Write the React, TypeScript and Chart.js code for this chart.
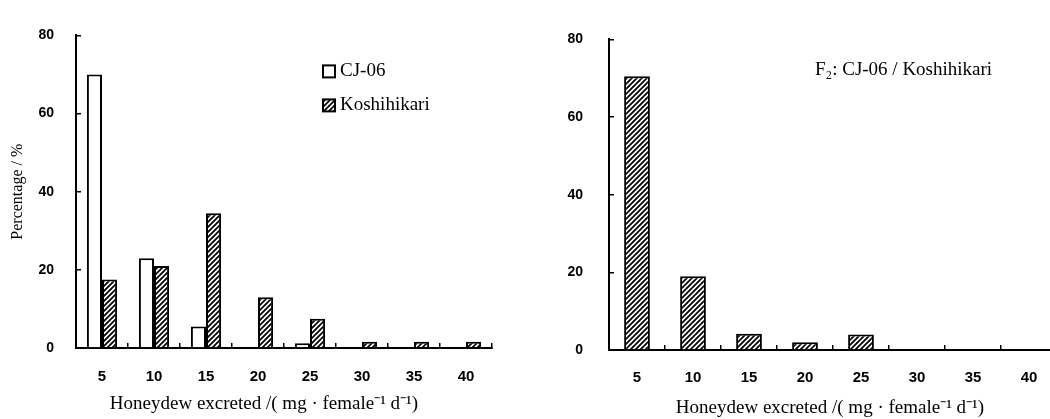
import React, { useEffect, useRef } from 'react';
import { Chart, registerables } from 'chart.js';

Chart.register(...registerables);

// ---- data ----
const categories = ['5', '10', '15', '20', '25', '30', '35', '40'];
const cj06Values = [70, 23, 5.5, 0, 1.2, 0, 0, 0];
const koshihikariValues = [17.5, 21, 34.5, 13, 7.5, 1.6, 1.6, 1.6];
const f2Values = [70.5, 19, 4.2, 2, 4, 0, 0, 0];
const seriesLabels = ['CJ-06', 'Koshihikari'];
const f2Label = 'F\u2082: CJ-06 / Koshihikari';
const xTitle = 'Honeydew excreted /( mg \u00B7 female\u207B\u00B9 d\u207B\u00B9)';
const yTitle = 'Percentage / %';
const yMin = 0;
const yMax = 80;
const yStep = 20;

const SERIF = '"Liberation Serif", "Times New Roman", serif';
const SANS = '"Liberation Sans", Arial, sans-serif';

function makeHatch(): CanvasPattern | string {
  const s = 5;
  const c = document.createElement('canvas');
  c.width = s;
  c.height = s;
  const g = c.getContext('2d');
  if (!g) return '#888';
  g.fillStyle = '#fff';
  g.fillRect(0, 0, s, s);
  g.strokeStyle = '#000';
  g.lineWidth = 1.8;
  g.beginPath();
  g.moveTo(0, s);
  g.lineTo(s, 0);
  g.moveTo(-1, 1);
  g.lineTo(1, -1);
  g.moveTo(s - 1, s + 1);
  g.lineTo(s + 1, s - 1);
  g.stroke();
  return g.createPattern(c, 'repeat') || '#888';
}

interface NoteCfg {
  titleDx: number; // x title centre, from chart area left
  titleDy: number; // x title baseline, from chart area bottom
  legend?: { dx: number; dy: number; gap: number; textDx: number };
  label?: { text: string; dx: number; dy: number };
}

function notesPlugin(cfg: NoteCfg) {
  return {
    id: 'notes',
    afterDraw(chart: any) {
      const { ctx, chartArea } = chart;
      ctx.save();
      ctx.fillStyle = '#000';
      // x-axis title
      ctx.font = '19px ' + SERIF;
      ctx.textAlign = 'center';
      ctx.textBaseline = 'alphabetic';
      ctx.fillText(xTitle, chartArea.left + cfg.titleDx, chartArea.bottom + cfg.titleDy);
      // legend
      if (cfg.legend) {
        const lg = cfg.legend;
        chart.data.datasets.forEach((ds: any, i: number) => {
          const bx = chartArea.left + lg.dx;
          const by = chartArea.top + lg.dy + i * lg.gap;
          ctx.fillStyle = ds.backgroundColor;
          ctx.fillRect(bx, by, 12, 12);
          ctx.strokeStyle = '#000';
          ctx.lineWidth = 2;
          ctx.strokeRect(bx, by, 12, 12);
          ctx.fillStyle = '#000';
          ctx.font = '19px ' + SERIF;
          ctx.textAlign = 'left';
          ctx.textBaseline = 'middle';
          ctx.fillText(ds.label, chartArea.left + lg.textDx, by + 6);
        });
      }
      if (cfg.label) {
        ctx.fillStyle = '#000';
        ctx.font = '19px ' + SERIF;
        ctx.textAlign = 'left';
        ctx.textBaseline = 'alphabetic';
        ctx.fillText(cfg.label.text, chartArea.left + cfg.label.dx, chartArea.top + cfg.label.dy);
      }
      ctx.restore();
    },
  };
}

interface OptCfg {
  yWidth: number;
  xHeight: number;
  yPad: number;
  xPad: number;
  padding: { left: number; right: number; top: number; bottom: number };
  showYTitle: boolean;
}

function makeOptions(o: OptCfg): any {
  return {
    responsive: false,
    animation: false,
    layout: { padding: o.padding },
    plugins: {
      legend: { display: false },
      tooltip: { enabled: false },
      title: { display: false },
    },
    scales: {
      x: {
        type: 'category',
        offset: true,
        border: { display: true, color: '#000', width: 2 },
        grid: {
          display: true,
          offset: true,
          drawOnChartArea: false,
          drawTicks: true,
          tickLength: -5,
          color: '#000',
          lineWidth: 1.5,
        },
        ticks: {
          color: '#000',
          font: { family: SANS, size: 15, weight: 'bold' },
          padding: o.xPad,
          maxRotation: 0,
          autoSkip: false,
        },
        afterFit: (s: any) => {
          s.height = o.xHeight;
        },
      },
      y: {
        min: yMin,
        max: yMax,
        border: { display: true, color: '#000', width: 2 },
        grid: {
          display: true,
          drawOnChartArea: false,
          drawTicks: true,
          tickLength: -5,
          color: '#000',
          lineWidth: 1.5,
        },
        ticks: {
          stepSize: yStep,
          color: '#000',
          font: { family: SANS, size: 14, weight: 'bold' },
          padding: o.yPad,
        },
        title: {
          display: o.showYTitle,
          text: yTitle,
          color: '#000',
          font: { family: SERIF, size: 16, weight: 'normal' },
          padding: { top: 8, bottom: 0 },
        },
        afterFit: (s: any) => {
          s.width = o.yWidth;
        },
      },
    },
  };
}

function LeftChart() {
  const ref = useRef<HTMLCanvasElement | null>(null);
  useEffect(() => {
    if (!ref.current) return;
    const hatch = makeHatch();
    const chart = new Chart(ref.current, {
      type: 'bar',
      data: {
        labels: categories,
        datasets: [
          {
            label: seriesLabels[0],
            data: cj06Values,
            backgroundColor: '#fff',
            borderColor: '#000',
            borderWidth: 2,
            borderSkipped: 'start',
            barPercentage: 1,
            categoryPercentage: 0.58,
          },
          {
            label: seriesLabels[1],
            data: koshihikariValues,
            backgroundColor: hatch as any,
            borderColor: '#000',
            borderWidth: 2,
            borderSkipped: 'start',
            barPercentage: 1,
            categoryPercentage: 0.58,
          },
        ],
      },
      options: makeOptions({
        yWidth: 76,
        xHeight: 71,
        yPad: 27,
        xPad: 25,
        padding: { left: 0, right: 33, top: 24, bottom: 0 },
        showYTitle: true,
      }),
      plugins: [
        notesPlugin({
          titleDx: 188,
          titleDy: 61,
          legend: { dx: 247, dy: 30, gap: 34, textDx: 264 },
        }) as any,
      ],
    });
    return () => chart.destroy();
  }, []);
  return <canvas ref={ref} width={525} height={419} />;
}

function RightChart() {
  const ref = useRef<HTMLCanvasElement | null>(null);
  useEffect(() => {
    if (!ref.current) return;
    const hatch = makeHatch();
    const chart = new Chart(ref.current, {
      type: 'bar',
      data: {
        labels: categories,
        datasets: [
          {
            label: f2Label,
            data: f2Values,
            backgroundColor: hatch as any,
            borderColor: '#000',
            borderWidth: 2,
            borderSkipped: 'start',
            barPercentage: 0.46,
            categoryPercentage: 1,
          },
        ],
      },
      options: makeOptions({
        yWidth: 84,
        xHeight: 69,
        yPad: 31,
        xPad: 24,
        padding: { left: 0, right: 8, top: 33, bottom: 0 },
        showYTitle: false,
      }),
      plugins: [
        notesPlugin({
          titleDx: 221,
          titleDy: 63,
          label: { text: f2Label, dx: 206, dy: 36 },
        }) as any,
      ],
    });
    return () => chart.destroy();
  }, []);
  return <canvas ref={ref} width={540} height={419} />;
}

export default function App() {
  return (
    <div
      style={{
        position: 'fixed',
        left: 0,
        top: 0,
        width: 1050,
        height: 419,
        overflow: 'hidden',
        background: '#fff',
      }}
    >
      <div style={{ position: 'absolute', left: 0, top: 0 }}>
        <LeftChart />
      </div>
      <div style={{ position: 'absolute', left: 525, top: 0 }}>
        <RightChart />
      </div>
    </div>
  );
}
